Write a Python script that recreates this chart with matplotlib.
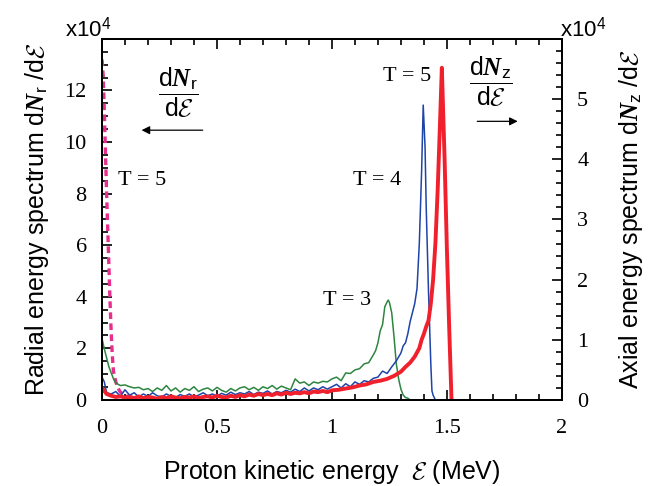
import matplotlib
matplotlib.use("Agg")
import matplotlib.pyplot as plt
from matplotlib.ticker import MultipleLocator

plt.rcParams['font.family'] = ['Liberation Sans', 'DejaVu Sans']
plt.rcParams['mathtext.fontset'] = 'custom'
plt.rcParams['mathtext.rm'] = 'Liberation Sans'
plt.rcParams['mathtext.sf'] = 'Liberation Sans'
plt.rcParams['mathtext.it'] = 'Liberation Serif:italic'
plt.rcParams['mathtext.bf'] = 'Liberation Sans:bold'
plt.rcParams['mathtext.bfit'] = 'Liberation Serif:italic:bold'
plt.rcParams['mathtext.cal'] = 'cmsy10'
plt.rcParams['mathtext.fallback'] = 'stix'

# radial spectrum, T = 5 (left axis, x10^4)
xr5 = [0, 0.005, 0.01, 0.015, 0.02, 0.025, 0.03, 0.035, 0.04, 0.045, 0.05, 0.06,
       0.07, 0.08, 0.1, 0.12, 0.15, 0.2, 0.25, 0.3, 0.35]
yr5 = [13.2, 12.6, 11.2, 9.6, 8.0, 6.6, 5.2, 3.8, 2.6, 1.7, 1.1, 0.7,
       0.45, 0.3, 0.18, 0.12, 0.08, 0.05, 0.04, 0.03, 0.02]

# axial spectra (right axis, x10^4)
xz3 = [0, 0.01, 0.02, 0.03, 0.04, 0.05, 0.06, 0.08, 0.10, 0.12, 0.14, 0.16, 0.18,
       0.20, 0.22, 0.24, 0.26, 0.28, 0.30, 0.32, 0.34, 0.36, 0.38, 0.40, 0.42,
       0.44, 0.46, 0.48, 0.50, 0.52, 0.54, 0.56, 0.58, 0.60, 0.62, 0.64, 0.66,
       0.68, 0.70, 0.72, 0.74, 0.76, 0.78, 0.80, 0.82, 0.84, 0.86, 0.88, 0.90,
       0.92, 0.94, 0.96, 0.98, 1.00, 1.02, 1.04, 1.06, 1.08, 1.10, 1.12, 1.14,
       1.16, 1.18, 1.19, 1.20, 1.21, 1.22, 1.23, 1.24, 1.245, 1.25, 1.26, 1.27,
       1.28, 1.29, 1.30, 1.31, 1.32, 1.33, 1.34]
yz3 = [1.02, 0.85, 0.70, 0.55, 0.45, 0.35, 0.28, 0.24, 0.25, 0.22, 0.20, 0.21, 0.17,
       0.19, 0.14, 0.20, 0.16, 0.24, 0.15, 0.20, 0.13, 0.19, 0.16, 0.22, 0.14,
       0.18, 0.20, 0.15, 0.21, 0.16, 0.13, 0.19, 0.15, 0.20, 0.22, 0.17, 0.21,
       0.16, 0.22, 0.19, 0.24, 0.18, 0.23, 0.20, 0.17, 0.35, 0.28, 0.30, 0.24,
       0.30, 0.28, 0.31, 0.30, 0.35, 0.38, 0.32, 0.45, 0.44, 0.50, 0.52, 0.60,
       0.62, 0.75, 0.82, 0.95, 1.15, 1.25, 1.55, 1.63, 1.66, 1.62, 1.45, 1.05,
       0.60, 0.35, 0.18, 0.08, 0.04, 0.03, 0.0]

xz4 = [0, 0.01, 0.02, 0.04, 0.06, 0.08, 0.10, 0.12, 0.14, 0.16, 0.18, 0.20, 0.22,
       0.24, 0.26, 0.28, 0.30, 0.32, 0.34, 0.36, 0.38, 0.40, 0.42, 0.44, 0.46,
       0.48, 0.50, 0.52, 0.54, 0.56, 0.58, 0.60, 0.62, 0.64, 0.66, 0.68, 0.70,
       0.72, 0.74, 0.76, 0.78, 0.80, 0.82, 0.84, 0.86, 0.88, 0.90, 0.92, 0.94,
       0.96, 0.98, 1.00, 1.02, 1.04, 1.06, 1.08, 1.10, 1.12, 1.14, 1.16, 1.18,
       1.20, 1.22, 1.24, 1.26, 1.28, 1.30, 1.31, 1.32, 1.33, 1.34, 1.35, 1.36,
       1.37, 1.38, 1.39, 1.397, 1.405, 1.41, 1.42, 1.43, 1.435, 1.44, 1.45]
yz4 = [0.38, 0.30, 0.12, 0.10, 0.14, 0.06, 0.17, 0.08, 0.12, 0.05, 0.10, 0.06, 0.12,
       0.07, 0.05, 0.10, 0.06, 0.04, 0.09, 0.06, 0.10, 0.05, 0.08, 0.12, 0.07,
       0.10, 0.06, 0.11, 0.08, 0.13, 0.09, 0.12, 0.10, 0.14, 0.09, 0.13, 0.11,
       0.15, 0.10, 0.14, 0.12, 0.16, 0.13, 0.18, 0.14, 0.20, 0.15, 0.20, 0.17,
       0.22, 0.18, 0.22, 0.26, 0.20, 0.27, 0.22, 0.30, 0.26, 0.32, 0.30, 0.36,
       0.38, 0.48, 0.44, 0.55, 0.65, 0.78, 0.90, 0.95, 1.10, 1.30, 1.45, 1.60,
       1.85, 2.60, 3.80, 4.90, 4.20, 3.20, 1.80, 0.60, 0.15, 0.08, 0.0]

xz5 = [0, 0.01, 0.02, 0.04, 0.06, 0.08, 0.10, 0.12, 0.14, 0.16, 0.18, 0.20, 0.22,
       0.24, 0.26, 0.28, 0.30, 0.32, 0.34, 0.36, 0.38, 0.40, 0.42, 0.44, 0.46,
       0.48, 0.50, 0.52, 0.54, 0.56, 0.58, 0.60, 0.62, 0.64, 0.66, 0.68, 0.70,
       0.72, 0.74, 0.76, 0.78, 0.80, 0.82, 0.84, 0.86, 0.88, 0.90, 0.92, 0.94,
       0.96, 0.98, 1.00, 1.03, 1.06, 1.09, 1.12, 1.15, 1.18, 1.21, 1.24, 1.27,
       1.30, 1.32, 1.34, 1.36, 1.38, 1.39, 1.40, 1.41, 1.42, 1.43, 1.44, 1.45,
       1.46, 1.47, 1.478, 1.49, 1.50, 1.51, 1.52]
yz5 = [0.20, 0.15, 0.10, 0.07, 0.05, 0.06, 0.04, 0.05, 0.03, 0.06, 0.03, 0.05, 0.04,
       0.02, 0.05, 0.03, 0.06, 0.04, 0.03, 0.05, 0.04, 0.06, 0.03, 0.05, 0.06,
       0.04, 0.07, 0.05, 0.04, 0.07, 0.05, 0.08, 0.06, 0.09, 0.07, 0.10, 0.08,
       0.10, 0.08, 0.11, 0.09, 0.12, 0.10, 0.12, 0.11, 0.13, 0.11, 0.14, 0.13,
       0.15, 0.13, 0.16, 0.17, 0.19, 0.21, 0.24, 0.26, 0.30, 0.32, 0.35, 0.40,
       0.47, 0.55, 0.62, 0.72, 0.86, 1.00, 1.10, 1.22, 1.32, 1.60, 2.00, 2.60,
       3.50, 4.60, 5.52, 4.00, 2.50, 1.20, 0.0]

fig = plt.figure(figsize=(6.56, 4.86), dpi=100)
ax = fig.add_axes([0.1555, 0.177, 0.701, 0.743])
ax2 = ax.twinx()

ax.plot(xr5, yr5, color='#e62e8c', lw=2.4, ls=(0, (2.0, 1.3)))
ax2.plot(xz3, yz3, color='#2e8540', lw=1.1)
ax2.plot(xz4, yz4, color='#1e44a8', lw=1.1)
ax2.plot(xz5, yz5, color='#f0202c', lw=2.8)

ax.set_xlim(0, 2)
ax.set_ylim(0, 14)
ax2.set_ylim(0, 6)

ax.xaxis.set_minor_locator(MultipleLocator(0.1))
ax.yaxis.set_minor_locator(MultipleLocator(0.5))
ax2.yaxis.set_minor_locator(MultipleLocator(0.2))

ax.set_xticks([0, 0.5, 1, 1.5, 2], ['0', '0.5', '1', '1.5', '2'])
ax.set_yticks([0, 2, 4, 6, 8, 10, 12, 14], ['0', '2', '4', '6', '8', '10', '12', ''])
ax2.set_yticks([0, 1, 2, 3, 4, 5, 6], ['0', '1', '2', '3', '4', '5', ''])

serif = 'Liberation Serif'
for a in (ax, ax2):
    for s in a.spines.values():
        s.set_linewidth(1.4)
    a.tick_params(which='both', direction='in', width=1.2, labelsize=16)
    a.tick_params(which='major', length=7)
    a.tick_params(which='minor', length=4)
    for lab in a.get_xticklabels() + a.get_yticklabels():
        lab.set_family(serif)
ax.tick_params(axis='x', which='both', top=True, pad=14)
ax.tick_params(axis='y', which='both', right=False, pad=11)
ax2.tick_params(axis='y', which='both', left=False, pad=11)

ax.set_xlabel(r"Proton kinetic energy  $\mathcal{E}$ (MeV)", fontsize=18, labelpad=14)
ax.set_ylabel(r"Radial energy spectrum d$\mathbfit{N}_\mathrm{r}$ /d$\mathcal{E}$",
              fontsize=18, labelpad=10)
ax2.set_ylabel(r"Axial energy spectrum d$\mathbfit{N}_\mathrm{z}$ /d$\mathcal{E}$",
               fontsize=18, labelpad=21)

fig.text(0.099, 0.94, r"x10$^4$", fontsize=16, ha='left', va='center')
fig.text(0.853, 0.94, r"x10$^4$", fontsize=16, ha='left', va='center')

tkw = dict(fontsize=16, family=serif)
ax.text(0.07, 8.5, "T = 5", va='center', ha='left', **tkw)
ax2.text(1.30, 3.64, "T = 4", va='center', ha='right', **tkw)
ax2.text(1.22, 5.37, "T = 5", va='center', ha='left', **tkw)
ax2.text(1.17, 1.65, "T = 3", va='center', ha='right', **tkw)

ax.text(0.33, 11.9, r"$\dfrac{\mathrm{d}\mathbfit{N}_\mathrm{r}}{\mathrm{d}\mathcal{E}}$",
        fontsize=18, ha='center', va='center')
ax.annotate('', xy=(0.16, 10.46), xytext=(0.45, 10.46),
            arrowprops=dict(arrowstyle='-|>', lw=0.9, color='black', mutation_scale=12))
ax2.text(1.69, 5.29, r"$\dfrac{\mathrm{d}\mathbfit{N}_\mathrm{z}}{\mathrm{d}\mathcal{E}}$",
         fontsize=18, ha='center', va='center')
ax2.annotate('', xy=(1.82, 4.63), xytext=(1.62, 4.63),
             arrowprops=dict(arrowstyle='-|>', lw=0.9, color='black', mutation_scale=12))

fig.savefig("out.png", dpi=100)
